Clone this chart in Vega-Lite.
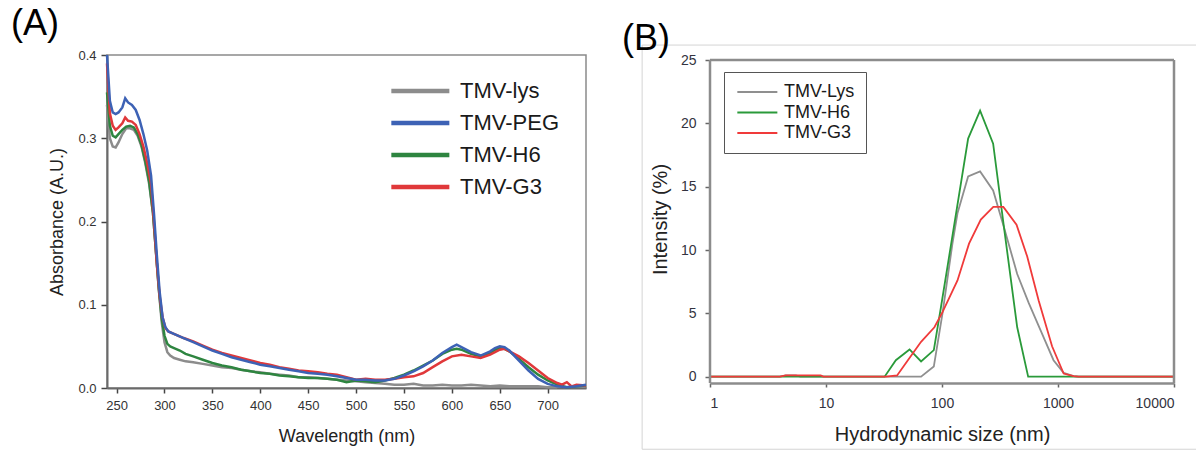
{
"$schema": "https://vega.github.io/schema/vega-lite/v6.json",
"background": "white",
"padding": {"left": 10, "top": 5, "right": 0, "bottom": 0},
"autosize": {"type": "pad"},
"bounds": "flush",
"spacing": 124,
"resolve": {"scale": {"color": "independent"}, "legend": {"color": "independent"}},
"config": {"font": "Liberation Sans", "axis": {"grid": false, "titleFontWeight": "normal"}, "legend": {"title": null}},
"hconcat": [
{
"width": 479, "height": 333,
"view": {"stroke": "#8a8a8a", "strokeWidth": 1.5},
"title": {"text": "(A)", "fontSize": 36, "fontWeight": "normal", "color": "#000", "anchor": "start", "frame": "group", "baseline": "alphabetic", "dx": -96, "offset": -22},
"data": {"values": [
{"s":"TMV-lys","w":240,"a":0.34},{"s":"TMV-lys","w":243,"a":0.30},{"s":"TMV-lys","w":246,"a":0.29},{"s":"TMV-lys","w":249,"a":0.289},{"s":"TMV-lys","w":252,"a":0.295},{"s":"TMV-lys","w":256,"a":0.305},{"s":"TMV-lys","w":260,"a":0.312},{"s":"TMV-lys","w":264,"a":0.312},{"s":"TMV-lys","w":268,"a":0.31},{"s":"TMV-lys","w":272,"a":0.303},{"s":"TMV-lys","w":276,"a":0.29},{"s":"TMV-lys","w":280,"a":0.27},{"s":"TMV-lys","w":284,"a":0.245},{"s":"TMV-lys","w":288,"a":0.21},{"s":"TMV-lys","w":291,"a":0.165},{"s":"TMV-lys","w":294,"a":0.12},{"s":"TMV-lys","w":297,"a":0.08},{"s":"TMV-lys","w":300,"a":0.055},{"s":"TMV-lys","w":303,"a":0.043},{"s":"TMV-lys","w":306,"a":0.039},{"s":"TMV-lys","w":310,"a":0.036},{"s":"TMV-lys","w":316,"a":0.034},{"s":"TMV-lys","w":322,"a":0.032},{"s":"TMV-lys","w":330,"a":0.031},{"s":"TMV-lys","w":340,"a":0.029},{"s":"TMV-lys","w":350,"a":0.027},{"s":"TMV-lys","w":360,"a":0.025},{"s":"TMV-lys","w":370,"a":0.024},{"s":"TMV-lys","w":380,"a":0.022},{"s":"TMV-lys","w":390,"a":0.02},{"s":"TMV-lys","w":400,"a":0.019},{"s":"TMV-lys","w":410,"a":0.017},{"s":"TMV-lys","w":420,"a":0.016},{"s":"TMV-lys","w":430,"a":0.015},{"s":"TMV-lys","w":440,"a":0.013},{"s":"TMV-lys","w":450,"a":0.013},{"s":"TMV-lys","w":460,"a":0.012},{"s":"TMV-lys","w":470,"a":0.011},{"s":"TMV-lys","w":480,"a":0.01},{"s":"TMV-lys","w":490,"a":0.009},{"s":"TMV-lys","w":500,"a":0.008},{"s":"TMV-lys","w":510,"a":0.007},{"s":"TMV-lys","w":520,"a":0.006},{"s":"TMV-lys","w":530,"a":0.005},{"s":"TMV-lys","w":540,"a":0.004},{"s":"TMV-lys","w":550,"a":0.004},{"s":"TMV-lys","w":560,"a":0.005},{"s":"TMV-lys","w":570,"a":0.003},{"s":"TMV-lys","w":580,"a":0.003},{"s":"TMV-lys","w":590,"a":0.004},{"s":"TMV-lys","w":600,"a":0.003},{"s":"TMV-lys","w":610,"a":0.003},{"s":"TMV-lys","w":620,"a":0.004},{"s":"TMV-lys","w":630,"a":0.003},{"s":"TMV-lys","w":640,"a":0.002},{"s":"TMV-lys","w":650,"a":0.003},{"s":"TMV-lys","w":660,"a":0.002},{"s":"TMV-lys","w":670,"a":0.002},{"s":"TMV-lys","w":680,"a":0.002},{"s":"TMV-lys","w":690,"a":0.002},{"s":"TMV-lys","w":700,"a":0.001},{"s":"TMV-lys","w":710,"a":0.001},
{"s":"TMV-H6","w":240,"a":0.355},{"s":"TMV-H6","w":243,"a":0.315},{"s":"TMV-H6","w":246,"a":0.303},{"s":"TMV-H6","w":249,"a":0.301},{"s":"TMV-H6","w":252,"a":0.305},{"s":"TMV-H6","w":256,"a":0.31},{"s":"TMV-H6","w":260,"a":0.314},{"s":"TMV-H6","w":264,"a":0.315},{"s":"TMV-H6","w":268,"a":0.313},{"s":"TMV-H6","w":272,"a":0.305},{"s":"TMV-H6","w":276,"a":0.292},{"s":"TMV-H6","w":280,"a":0.272},{"s":"TMV-H6","w":284,"a":0.248},{"s":"TMV-H6","w":288,"a":0.21},{"s":"TMV-H6","w":291,"a":0.165},{"s":"TMV-H6","w":294,"a":0.12},{"s":"TMV-H6","w":297,"a":0.085},{"s":"TMV-H6","w":300,"a":0.063},{"s":"TMV-H6","w":303,"a":0.053},{"s":"TMV-H6","w":306,"a":0.05},{"s":"TMV-H6","w":310,"a":0.048},{"s":"TMV-H6","w":316,"a":0.045},{"s":"TMV-H6","w":322,"a":0.041},{"s":"TMV-H6","w":330,"a":0.038},{"s":"TMV-H6","w":340,"a":0.034},{"s":"TMV-H6","w":350,"a":0.03},{"s":"TMV-H6","w":360,"a":0.027},{"s":"TMV-H6","w":370,"a":0.025},{"s":"TMV-H6","w":380,"a":0.022},{"s":"TMV-H6","w":390,"a":0.02},{"s":"TMV-H6","w":400,"a":0.018},{"s":"TMV-H6","w":410,"a":0.017},{"s":"TMV-H6","w":420,"a":0.015},{"s":"TMV-H6","w":430,"a":0.014},{"s":"TMV-H6","w":440,"a":0.013},{"s":"TMV-H6","w":450,"a":0.012},{"s":"TMV-H6","w":460,"a":0.012},{"s":"TMV-H6","w":470,"a":0.011},{"s":"TMV-H6","w":480,"a":0.01},{"s":"TMV-H6","w":490,"a":0.007},{"s":"TMV-H6","w":500,"a":0.009},{"s":"TMV-H6","w":510,"a":0.008},{"s":"TMV-H6","w":520,"a":0.007},{"s":"TMV-H6","w":530,"a":0.009},{"s":"TMV-H6","w":540,"a":0.012},{"s":"TMV-H6","w":550,"a":0.016},{"s":"TMV-H6","w":560,"a":0.021},{"s":"TMV-H6","w":570,"a":0.027},{"s":"TMV-H6","w":580,"a":0.033},{"s":"TMV-H6","w":590,"a":0.041},{"s":"TMV-H6","w":600,"a":0.046},{"s":"TMV-H6","w":605,"a":0.047},{"s":"TMV-H6","w":610,"a":0.046},{"s":"TMV-H6","w":620,"a":0.041},{"s":"TMV-H6","w":630,"a":0.038},{"s":"TMV-H6","w":640,"a":0.042},{"s":"TMV-H6","w":645,"a":0.046},{"s":"TMV-H6","w":650,"a":0.048},{"s":"TMV-H6","w":655,"a":0.047},{"s":"TMV-H6","w":660,"a":0.044},{"s":"TMV-H6","w":670,"a":0.035},{"s":"TMV-H6","w":680,"a":0.025},{"s":"TMV-H6","w":690,"a":0.016},{"s":"TMV-H6","w":700,"a":0.009},{"s":"TMV-H6","w":710,"a":0.004},{"s":"TMV-H6","w":720,"a":0.001},{"s":"TMV-H6","w":730,"a":0.002},{"s":"TMV-H6","w":740,"a":0.003},
{"s":"TMV-G3","w":240,"a":0.39},{"s":"TMV-G3","w":243,"a":0.33},{"s":"TMV-G3","w":246,"a":0.315},{"s":"TMV-G3","w":249,"a":0.31},{"s":"TMV-G3","w":252,"a":0.313},{"s":"TMV-G3","w":256,"a":0.318},{"s":"TMV-G3","w":259,"a":0.325},{"s":"TMV-G3","w":262,"a":0.321},{"s":"TMV-G3","w":266,"a":0.32},{"s":"TMV-G3","w":270,"a":0.316},{"s":"TMV-G3","w":274,"a":0.305},{"s":"TMV-G3","w":278,"a":0.29},{"s":"TMV-G3","w":282,"a":0.27},{"s":"TMV-G3","w":286,"a":0.245},{"s":"TMV-G3","w":289,"a":0.2},{"s":"TMV-G3","w":292,"a":0.15},{"s":"TMV-G3","w":295,"a":0.11},{"s":"TMV-G3","w":298,"a":0.085},{"s":"TMV-G3","w":301,"a":0.072},{"s":"TMV-G3","w":304,"a":0.068},{"s":"TMV-G3","w":308,"a":0.066},{"s":"TMV-G3","w":314,"a":0.063},{"s":"TMV-G3","w":320,"a":0.06},{"s":"TMV-G3","w":330,"a":0.056},{"s":"TMV-G3","w":340,"a":0.051},{"s":"TMV-G3","w":350,"a":0.046},{"s":"TMV-G3","w":360,"a":0.042},{"s":"TMV-G3","w":370,"a":0.039},{"s":"TMV-G3","w":380,"a":0.036},{"s":"TMV-G3","w":390,"a":0.033},{"s":"TMV-G3","w":400,"a":0.03},{"s":"TMV-G3","w":410,"a":0.028},{"s":"TMV-G3","w":420,"a":0.025},{"s":"TMV-G3","w":430,"a":0.023},{"s":"TMV-G3","w":440,"a":0.021},{"s":"TMV-G3","w":450,"a":0.02},{"s":"TMV-G3","w":460,"a":0.019},{"s":"TMV-G3","w":470,"a":0.017},{"s":"TMV-G3","w":480,"a":0.016},{"s":"TMV-G3","w":490,"a":0.013},{"s":"TMV-G3","w":500,"a":0.01},{"s":"TMV-G3","w":510,"a":0.011},{"s":"TMV-G3","w":520,"a":0.01},{"s":"TMV-G3","w":530,"a":0.01},{"s":"TMV-G3","w":540,"a":0.011},{"s":"TMV-G3","w":550,"a":0.013},{"s":"TMV-G3","w":560,"a":0.014},{"s":"TMV-G3","w":570,"a":0.018},{"s":"TMV-G3","w":580,"a":0.025},{"s":"TMV-G3","w":590,"a":0.032},{"s":"TMV-G3","w":600,"a":0.038},{"s":"TMV-G3","w":610,"a":0.04},{"s":"TMV-G3","w":620,"a":0.038},{"s":"TMV-G3","w":630,"a":0.036},{"s":"TMV-G3","w":640,"a":0.04},{"s":"TMV-G3","w":650,"a":0.046},{"s":"TMV-G3","w":655,"a":0.047},{"s":"TMV-G3","w":660,"a":0.044},{"s":"TMV-G3","w":670,"a":0.038},{"s":"TMV-G3","w":680,"a":0.03},{"s":"TMV-G3","w":690,"a":0.021},{"s":"TMV-G3","w":700,"a":0.012},{"s":"TMV-G3","w":710,"a":0.006},{"s":"TMV-G3","w":715,"a":0.004},{"s":"TMV-G3","w":720,"a":0.007},{"s":"TMV-G3","w":725,"a":0.002},{"s":"TMV-G3","w":730,"a":0.004},{"s":"TMV-G3","w":740,"a":0.003},
{"s":"TMV-PEG","w":240,"a":0.4},{"s":"TMV-PEG","w":243,"a":0.345},{"s":"TMV-PEG","w":246,"a":0.331},{"s":"TMV-PEG","w":249,"a":0.329},{"s":"TMV-PEG","w":252,"a":0.331},{"s":"TMV-PEG","w":256,"a":0.337},{"s":"TMV-PEG","w":259,"a":0.348},{"s":"TMV-PEG","w":262,"a":0.343},{"s":"TMV-PEG","w":266,"a":0.34},{"s":"TMV-PEG","w":270,"a":0.334},{"s":"TMV-PEG","w":274,"a":0.322},{"s":"TMV-PEG","w":278,"a":0.305},{"s":"TMV-PEG","w":282,"a":0.285},{"s":"TMV-PEG","w":286,"a":0.255},{"s":"TMV-PEG","w":289,"a":0.21},{"s":"TMV-PEG","w":292,"a":0.16},{"s":"TMV-PEG","w":295,"a":0.115},{"s":"TMV-PEG","w":298,"a":0.085},{"s":"TMV-PEG","w":301,"a":0.073},{"s":"TMV-PEG","w":304,"a":0.068},{"s":"TMV-PEG","w":308,"a":0.066},{"s":"TMV-PEG","w":314,"a":0.063},{"s":"TMV-PEG","w":320,"a":0.06},{"s":"TMV-PEG","w":330,"a":0.055},{"s":"TMV-PEG","w":340,"a":0.05},{"s":"TMV-PEG","w":350,"a":0.045},{"s":"TMV-PEG","w":360,"a":0.041},{"s":"TMV-PEG","w":370,"a":0.037},{"s":"TMV-PEG","w":380,"a":0.034},{"s":"TMV-PEG","w":390,"a":0.031},{"s":"TMV-PEG","w":400,"a":0.028},{"s":"TMV-PEG","w":410,"a":0.026},{"s":"TMV-PEG","w":420,"a":0.024},{"s":"TMV-PEG","w":430,"a":0.022},{"s":"TMV-PEG","w":440,"a":0.02},{"s":"TMV-PEG","w":450,"a":0.018},{"s":"TMV-PEG","w":460,"a":0.017},{"s":"TMV-PEG","w":470,"a":0.016},{"s":"TMV-PEG","w":480,"a":0.014},{"s":"TMV-PEG","w":490,"a":0.012},{"s":"TMV-PEG","w":500,"a":0.01},{"s":"TMV-PEG","w":510,"a":0.01},{"s":"TMV-PEG","w":520,"a":0.009},{"s":"TMV-PEG","w":530,"a":0.009},{"s":"TMV-PEG","w":540,"a":0.011},{"s":"TMV-PEG","w":550,"a":0.015},{"s":"TMV-PEG","w":560,"a":0.02},{"s":"TMV-PEG","w":570,"a":0.026},{"s":"TMV-PEG","w":580,"a":0.033},{"s":"TMV-PEG","w":590,"a":0.042},{"s":"TMV-PEG","w":600,"a":0.049},{"s":"TMV-PEG","w":605,"a":0.052},{"s":"TMV-PEG","w":610,"a":0.049},{"s":"TMV-PEG","w":620,"a":0.043},{"s":"TMV-PEG","w":630,"a":0.039},{"s":"TMV-PEG","w":640,"a":0.044},{"s":"TMV-PEG","w":645,"a":0.048},{"s":"TMV-PEG","w":650,"a":0.05},{"s":"TMV-PEG","w":655,"a":0.049},{"s":"TMV-PEG","w":660,"a":0.045},{"s":"TMV-PEG","w":670,"a":0.033},{"s":"TMV-PEG","w":680,"a":0.021},{"s":"TMV-PEG","w":690,"a":0.011},{"s":"TMV-PEG","w":700,"a":0.005},{"s":"TMV-PEG","w":710,"a":0.002},{"s":"TMV-PEG","w":720,"a":0.001},{"s":"TMV-PEG","w":730,"a":0.002},{"s":"TMV-PEG","w":740,"a":0.004}
]},
"mark": {"type": "line", "strokeWidth": 2.5},
"encoding": {
"x": {"field": "w", "type": "quantitative", "scale": {"domain": [240, 740], "nice": false, "zero": false},
 "axis": {"values": [250,300,350,400,450,500,550,600,650,700], "title": "Wavelength (nm)", "titleFontSize": 18, "titleColor": "#222", "titlePadding": 15, "labelFontSize": 13, "labelColor": "#333", "labelPadding": 6, "tickSize": 5, "tickWidth": 1.5, "tickColor": "#444", "domainColor": "#6a6a6a", "domainWidth": 2}},
"y": {"field": "a", "type": "quantitative", "scale": {"domain": [0, 0.4], "nice": false},
 "axis": {"values": [0,0.1,0.2,0.3,0.4], "format": ".1f", "title": "Absorbance (A.U.)", "titleFontSize": 18, "titleColor": "#222", "titlePadding": 11, "labelFontSize": 13, "labelColor": "#333", "labelPadding": 5, "tickSize": 6, "tickWidth": 1.5, "tickColor": "#444", "domainColor": "#6a6a6a", "domainWidth": 2}},
"color": {"field": "s", "type": "nominal",
 "scale": {"domain": ["TMV-lys","TMV-PEG","TMV-H6","TMV-G3"], "range": ["#8c8c8c","#3d62b5","#2e8540","#e0383a"]},
 "legend": {"orient": "none", "legendX": 282, "legendY": 24, "padding": 0, "symbolType": "M-1,0H5", "symbolSize": 374, "symbolStrokeWidth": 4.5, "labelFontSize": 22, "labelColor": "#1a1a1a", "labelOffset": 47, "rowPadding": 9}}
}
},
{
"width": 464, "height": 328,
"view": {"stroke": null},
"title": {"text": "(B)", "fontSize": 36, "fontWeight": "normal", "color": "#000", "anchor": "start", "frame": "group", "baseline": "alphabetic", "dx": -88, "offset": -41},
"layer": [
{
"data": {"values": [
{"s":"TMV-Lys","d":1,"i":0},{"s":"TMV-Lys","d":4,"i":0},{"s":"TMV-Lys","d":4.5,"i":0.1},{"s":"TMV-Lys","d":5.5,"i":0.1},{"s":"TMV-Lys","d":6,"i":0},{"s":"TMV-Lys","d":66,"i":0},{"s":"TMV-Lys","d":85,"i":0.8},{"s":"TMV-Lys","d":101,"i":5},{"s":"TMV-Lys","d":123,"i":10.5},{"s":"TMV-Lys","d":136,"i":12.9},{"s":"TMV-Lys","d":168,"i":15.8},{"s":"TMV-Lys","d":213,"i":16.2},{"s":"TMV-Lys","d":276,"i":14.7},{"s":"TMV-Lys","d":342,"i":11.8},{"s":"TMV-Lys","d":445,"i":8.1},{"s":"TMV-Lys","d":560,"i":5.8},{"s":"TMV-Lys","d":705,"i":3.7},{"s":"TMV-Lys","d":915,"i":1.3},{"s":"TMV-Lys","d":1119,"i":0.3},{"s":"TMV-Lys","d":1362,"i":0.05},{"s":"TMV-Lys","d":1500,"i":0},{"s":"TMV-Lys","d":10000,"i":0},
{"s":"TMV-H6","d":1,"i":0},{"s":"TMV-H6","d":32,"i":0},{"s":"TMV-H6","d":40,"i":1.3},{"s":"TMV-H6","d":52.5,"i":2.15},{"s":"TMV-H6","d":66,"i":1.2},{"s":"TMV-H6","d":85,"i":2.1},{"s":"TMV-H6","d":98,"i":5.5},{"s":"TMV-H6","d":168,"i":18.8},{"s":"TMV-H6","d":213,"i":21},{"s":"TMV-H6","d":276,"i":18.4},{"s":"TMV-H6","d":342,"i":11.8},{"s":"TMV-H6","d":445,"i":3.9},{"s":"TMV-H6","d":553,"i":0},{"s":"TMV-H6","d":10000,"i":0},
{"s":"TMV-G3","d":1,"i":0},{"s":"TMV-G3","d":4,"i":0},{"s":"TMV-G3","d":4.5,"i":0.1},{"s":"TMV-G3","d":9,"i":0.1},{"s":"TMV-G3","d":9.5,"i":0},{"s":"TMV-G3","d":33,"i":0},{"s":"TMV-G3","d":41,"i":0.1},{"s":"TMV-G3","d":50.8,"i":1.3},{"s":"TMV-G3","d":66,"i":2.75},{"s":"TMV-G3","d":86,"i":3.9},{"s":"TMV-G3","d":101,"i":5.1},{"s":"TMV-G3","d":136,"i":7.6},{"s":"TMV-G3","d":171,"i":10.5},{"s":"TMV-G3","d":216,"i":12.4},{"s":"TMV-G3","d":277,"i":13.4},{"s":"TMV-G3","d":338,"i":13.4},{"s":"TMV-G3","d":439,"i":12.0},{"s":"TMV-G3","d":542,"i":9.5},{"s":"TMV-G3","d":682,"i":6.0},{"s":"TMV-G3","d":889,"i":2.4},{"s":"TMV-G3","d":1119,"i":0.25},{"s":"TMV-G3","d":1362,"i":0.05},{"s":"TMV-G3","d":1500,"i":0},{"s":"TMV-G3","d":10000,"i":0}
]},
"mark": {"type": "line", "strokeWidth": 1.8},
"encoding": {
"x": {"field": "d", "type": "quantitative", "scale": {"type": "log", "domain": [1, 10000]},
 "axis": {"values": [1,10,100,1000,10000], "format": "d", "title": "Hydrodynamic size (nm)", "titleFontSize": 20, "titleColor": "#222", "titlePadding": 14, "labelFontSize": 14, "labelColor": "#333340", "labelPadding": 9, "tickSize": 4, "tickWidth": 1.5, "tickColor": "#666", "domainColor": "#8c8c8c", "domainWidth": 2.5}},
"y": {"field": "i", "type": "quantitative", "scale": {"domain": [-0.5, 25.395], "nice": false, "zero": false},
 "axis": {"values": [0,5,10,15,20,25], "title": "Intensity (%)", "titleFontSize": 20, "titleColor": "#222", "titlePadding": 10, "labelFontSize": 14, "labelColor": "#333340", "labelPadding": 9, "tickSize": 5, "tickWidth": 1.5, "tickColor": "#666", "domain": false}},
"color": {"field": "s", "type": "nominal",
 "scale": {"domain": ["TMV-Lys","TMV-H6","TMV-G3"], "range": ["#8f8f8f","#2a9a3a","#f03a3a"]},
 "legend": {"orient": "none", "legendX": 14, "legendY": 17, "padding": 11, "strokeColor": "#555", "fillColor": "#fff", "symbolType": "M-1,0H5", "symbolSize": 178, "symbolStrokeWidth": 2, "labelFontSize": 18, "labelColor": "#1a1a1a", "labelOffset": 31, "rowPadding": 2.5}}
}
},
{"data": {"values": [{}]}, "mark": {"type": "rule", "color": "#8c8c8c", "strokeWidth": 2.5}, "encoding": {"y": {"datum": 25}, "x": {"datum": 1}, "x2": {"datum": 10000}}},
{"data": {"values": [{}]}, "mark": {"type": "rule", "color": "#8c8c8c", "strokeWidth": 2.5}, "encoding": {"x": {"datum": 10000}, "y": {"datum": -0.5}, "y2": {"datum": 25}}},
{"data": {"values": [{}]}, "mark": {"type": "rule", "color": "#8c8c8c", "strokeWidth": 2.5}, "encoding": {"x": {"datum": 1}, "y": {"datum": -0.5}, "y2": {"datum": 25}}},
{"data": {"values": [{}]}, "mark": {"type": "rule", "color": "#d4d4d4", "strokeWidth": 1}, "encoding": {"y": {"datum": 26.18}, "x": {"datum": 0.26}, "x2": {"datum": 15800}}},
{"data": {"values": [{}]}, "mark": {"type": "rule", "color": "#d4d4d4", "strokeWidth": 1}, "encoding": {"x": {"datum": 0.26}, "y": {"datum": 26.18}, "y2": {"datum": -5.73}}},
{"data": {"values": [{}]}, "mark": {"type": "rule", "color": "#d4d4d4", "strokeWidth": 1}, "encoding": {"y": {"datum": -5.73}, "x": {"datum": 0.26}, "x2": {"datum": 15800}}}
]
}
]
}
